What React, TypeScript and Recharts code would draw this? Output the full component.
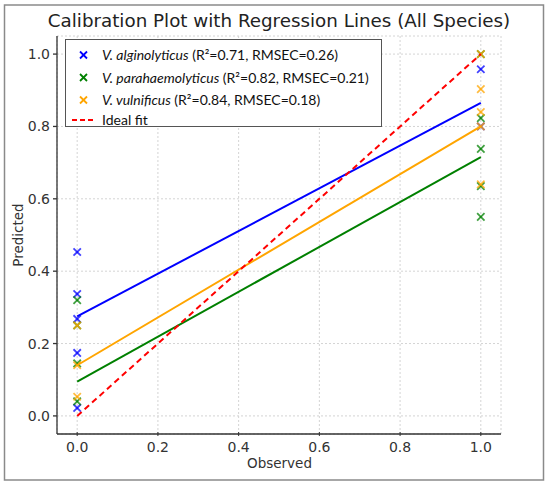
import { ScatterChart, Scatter, XAxis, YAxis, CartesianGrid } from 'recharts';

const algAt0 = [0.453, 0.337, 0.268, 0.174, 0.022];
const algAt1 = [0.958, 0.8];
const parAt0 = [0.32, 0.25, 0.145, 0.04];
const parAt1 = [1.0, 0.823, 0.738, 0.635, 0.55];
const vulAt0 = [0.25, 0.14, 0.053];
const vulAt1 = [1.0, 0.903, 0.84, 0.8, 0.64];

// regression line ends (at observed 0 and 1)
const fitX = [0, 1];
const algFit = [0.275, 0.865];
const parFit = [0.095, 0.715];
const vulFit = [0.14, 0.8];
const idealFit = [0, 1];

const ticks = [0, 0.2, 0.4, 0.6, 0.8, 1.0];

const colors = { alg: '#0000ff', par: '#008000', vul: '#ffa500', ideal: '#ff0000' };

const toPoints = (at0: number[], at1: number[]) => [
  ...at0.map(y => ({ x: 0, y })),
  ...at1.map(y => ({ x: 1, y })),
];
const toLine = (ys: number[]) => fitX.map((x, i) => ({ x, y: ys[i] }));

const Cross = (color: string) => (props: any) => {
  const { cx, cy } = props;
  const s = 3.7;
  return (
    <g stroke={color} strokeWidth={1.8} strokeOpacity={0.75}>
      <line x1={cx - s} y1={cy - s} x2={cx + s} y2={cy + s} />
      <line x1={cx - s} y1={cy + s} x2={cx + s} y2={cy - s} />
    </g>
  );
};

const NoDot = () => <g />;

const XTick = (props: any) => {
  const { x, y, payload } = props;
  return (
    <g>
      <line x1={x} y1={y} x2={x} y2={y - 4} stroke="#333" strokeWidth={1} />
      <text x={x} y={y + 16} textAnchor="middle" fontSize={14} fill="#333" fontFamily="DejaVu Sans">
        {Number(payload.value).toFixed(1)}
      </text>
    </g>
  );
};

const font = 'DejaVu Sans';
const legendFont = 'Lato';

const legendRows = [
  { name: 'V. alginolyticus', stats: ' (R²=0.71, RMSEC=0.26)', color: colors.alg },
  { name: 'V. parahaemolyticus', stats: ' (R²=0.82, RMSEC=0.21)', color: colors.par },
  { name: 'V. vulnificus', stats: ' (R²=0.84, RMSEC=0.18)', color: colors.vul },
];

export default function App() {
  return (
    <div style={{ position: 'absolute', left: 0, top: 0, width: 550, height: 487, background: '#fff' }}>
      <ScatterChart width={550} height={487} margin={{ top: 36, right: 49, bottom: 0, left: 0 }}>
        <CartesianGrid stroke="#d4d4d4" strokeDasharray="2 2" />
        <XAxis
          type="number"
          dataKey="x"
          domain={[-0.05, 1.05]}
          ticks={ticks}
          height={53}
          tickSize={0}
          tickLine={false}
          tick={<XTick />}
          stroke="#333"
          strokeWidth={1.3}
          allowDataOverflow
        />
        <YAxis
          type="number"
          dataKey="y"
          domain={[-0.05, 1.05]}
          ticks={ticks}
          width={57}
          tickSize={4}
          tickMargin={3}
          tickFormatter={(v: number) => v.toFixed(1)}
          tick={{ fontSize: 14, fill: '#333', fontFamily: font }}
          stroke="#333"
          strokeWidth={1.3}
          allowDataOverflow
        />
        <Scatter data={toPoints(algAt0, algAt1)} shape={Cross(colors.alg)} isAnimationActive={false} />
        <Scatter data={toPoints(parAt0, parAt1)} shape={Cross(colors.par)} isAnimationActive={false} />
        <Scatter data={toPoints(vulAt0, vulAt1)} shape={Cross(colors.vul)} isAnimationActive={false} />
        <Scatter data={toLine(algFit)} line={{ stroke: colors.alg, strokeWidth: 2 }} shape={NoDot} isAnimationActive={false} />
        <Scatter data={toLine(parFit)} line={{ stroke: colors.par, strokeWidth: 2 }} shape={NoDot} isAnimationActive={false} />
        <Scatter data={toLine(vulFit)} line={{ stroke: colors.vul, strokeWidth: 2 }} shape={NoDot} isAnimationActive={false} />
        <Scatter
          data={toLine(idealFit)}
          line={{ stroke: colors.ideal, strokeWidth: 2, strokeDasharray: '6 4' }}
          shape={NoDot}
          isAnimationActive={false}
        />
      </ScatterChart>

      <svg width={550} height={487} style={{ position: 'absolute', left: 0, top: 0, pointerEvents: 'none' }}>
        <rect x={4.5} y={5} width={539} height={475} fill="none" stroke="#8a8a8a" strokeWidth={1.5} />
        <text x={279} y={27} textAnchor="middle" fontSize={18.3} fill="#222" fontFamily={font}>
          Calibration Plot with Regression Lines (All Species)
        </text>
        <text x={279.5} y={468} textAnchor="middle" fontSize={13.5} fill="#333" fontFamily={font}>
          Observed
        </text>
        <text
          x={0}
          y={0}
          transform="translate(23,235) rotate(-90)"
          textAnchor="middle"
          fontSize={13.5}
          fill="#333"
          fontFamily={font}
        >
          Predicted
        </text>

        <rect x={65.5} y={39.5} width={316} height={87} fill="#fff" stroke="#555" strokeWidth={1} />
        {legendRows.map((r, i) => {
          const cy = 55 + i * 22.5;
          return (
            <g key={r.name}>
              <g stroke={r.color} strokeWidth={1.8}>
                <line x1={80} y1={cy - 3.5} x2={87} y2={cy + 3.5} />
                <line x1={80} y1={cy + 3.5} x2={87} y2={cy - 3.5} />
              </g>
              <text x={102} y={cy + 5} fontSize={14} fill="#111" fontFamily={legendFont}>
                <tspan fontStyle="italic">{r.name}</tspan>
                <tspan>{r.stats}</tspan>
              </text>
            </g>
          );
        })}
        <line x1={72} y1={120} x2={94} y2={120} stroke={colors.ideal} strokeWidth={2} strokeDasharray="5 3" />
        <text x={102} y={125} fontSize={14} fill="#111" fontFamily={legendFont}>
          Ideal fit
        </text>
      </svg>
    </div>
  );
}
